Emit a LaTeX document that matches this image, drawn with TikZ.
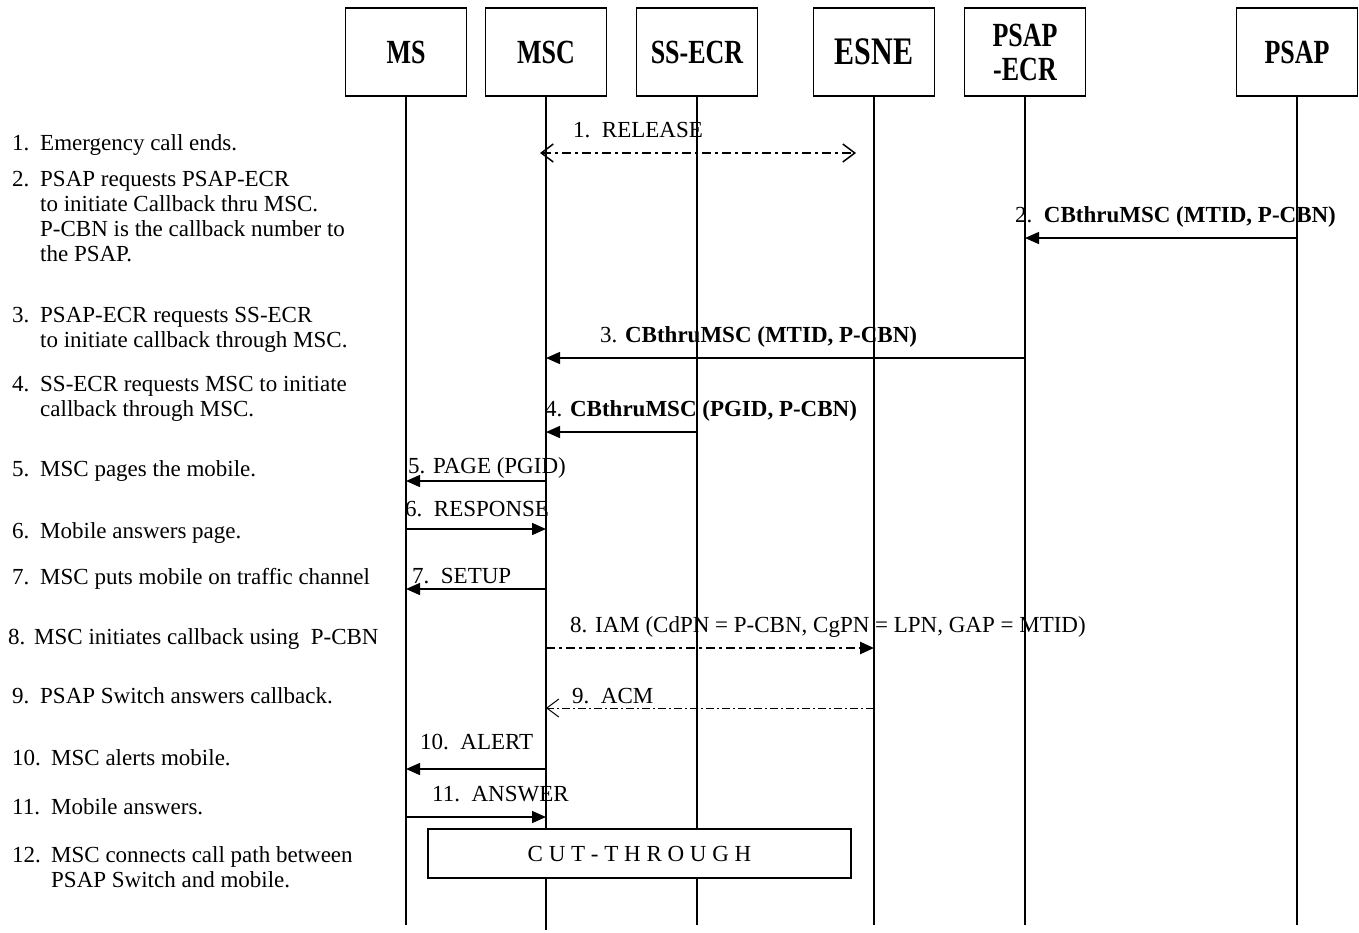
\documentclass[tikz,border=0pt]{standalone}
\usepackage{fontspec}
\setmainfont{Liberation Serif}
\usetikzlibrary{arrows.meta, positioning}

\newcommand{\notelines}[1]{\begin{tabular}[t]{@{}l@{}}#1\end{tabular}}
\newcommand{\tall}[1]{\scalebox{1}[1.3]{#1}}

\begin{document}
\begin{tikzpicture}[
    x=1pt, y=-1pt,
    font=\fontsize{23}{25}\selectfont,
    entity/.style={rectangle, draw=black, line width=1.4pt, minimum width=121pt, minimum height=88pt, inner sep=0pt, align=center, font=\fontsize{26}{32}\selectfont\bfseries},
    lifeline/.style={line width=1.2pt},
    msg/.style={-{Triangle[length=14pt,width=12pt]}, line width=1.5pt},
    release/.style={{Straight Barb[length=12pt,width=18pt,line width=1.5pt]}-{Straight Barb[length=12pt,width=18pt,line width=1.5pt]}, line width=2.6pt, dash pattern=on 9pt off 4pt on 3pt off 4pt},
    iam/.style={-{Triangle[length=14pt,width=12pt]}, line width=2.6pt, dash pattern=on 9pt off 4pt on 3pt off 4pt},
    acm/.style={-{Straight Barb[length=12pt,width=18pt,line width=1pt]}, line width=1pt, dash pattern=on 8pt off 3pt on 2pt off 3pt},
    lbl/.style={anchor=base west, inner sep=0pt},
    note/.style={anchor=base west, inner sep=0pt}
]
\useasboundingbox (0,0) rectangle (1359,932);

% Entities
\node[entity] (ms) at (406,52) {\tall{MS}};
\node[entity] (msc) at (546,52) {\tall{MSC}};
\node[entity] (ssecr) at (697,52) {\tall{SS-ECR}};
\node[entity, font=\fontsize{30}{32}\selectfont\bfseries] (esne) at (874,52) {\tall{ESNE}};
\node[entity] (psapecr) at (1025,52) {\tall{PSAP}\\[2pt]\tall{-ECR}};
\node[entity] (psap) at (1297,52) {\tall{PSAP}};

% Lifelines
\coordinate (bottom) at (0,925);
\draw[lifeline] (ms.south) -- (ms.south |- bottom);
\draw[lifeline] (msc.south) -- ([yshift=-5pt]msc.south |- bottom);
\draw[lifeline] (ssecr.south) -- (ssecr.south |- bottom);
\draw[lifeline] (esne.south) -- (esne.south |- bottom);
\draw[lifeline] (psapecr.south) -- (psapecr.south |- bottom);
\draw[lifeline] (psap.south) -- (psap.south |- bottom);

% Message rows
\coordinate (m1) at (0,153);
\coordinate (m2) at (0,238);
\coordinate (m3) at (0,358);
\coordinate (m4) at (0,432);
\coordinate (m5) at (0,481);
\coordinate (m6) at (0,529);
\coordinate (m7) at (0,589);
\coordinate (m8) at (0,648);
\coordinate (m9) at (0,708);
\coordinate (m10) at (0,769);
\coordinate (m11) at (0,817);

% Messages
\draw[release, shorten <=-6pt, shorten >=18pt] (msc |- m1) -- (esne |- m1);
\node[lbl] at (573,137) {1.\ \ RELEASE};

\draw[msg] (psap |- m2) -- (psapecr |- m2);
\node[lbl] at (1015,222) {2.\ \ \textbf{CBthruMSC (MTID, P-CBN)}};

\draw[msg] (psapecr |- m3) -- (msc |- m3);
\node[lbl] at (600,342) {3. \textbf{CBthruMSC (MTID, P-CBN)}};

\draw[msg] (ssecr |- m4) -- (msc |- m4);
\node[lbl] at (545,416) {4. \textbf{CBthruMSC (PGID, P-CBN)}};

\draw[msg] (msc |- m5) -- (ms |- m5);
\node[lbl] at (408,473) {5. PAGE (PGID)};

\draw[msg] (ms |- m6) -- (msc |- m6);
\node[lbl] at (405,516) {6.\ \ RESPONSE};

\draw[msg] (msc |- m7) -- (ms |- m7);
\node[lbl] at (412,583) {7.\ \ SETUP};

\draw[iam] (msc |- m8) -- (esne |- m8);
\node[lbl] at (570,632) {8. IAM (CdPN = P-CBN, CgPN = LPN, GAP = MTID)};

\draw[acm] (esne |- m9) -- (msc |- m9);
\node[lbl] at (572,703) {9.\ \ ACM};

\draw[msg] (msc |- m10) -- (ms |- m10);
\node[lbl] at (420,749) {10.\ \ ALERT};

\draw[msg] (ms |- m11) -- (msc |- m11);
\node[lbl] at (432,801) {11.\ \ ANSWER};

% Cut-through
\node[rectangle, draw=black, line width=1.4pt, fill=white, minimum width=423pt, minimum height=49pt] (cut) at (639.5,853.5) {C U T - T H R O U G H};

% Step descriptions
\node[note] (n1) at (12,150) {1.};
\node[note] (t1) at (40,150) {Emergency call ends.};
\node[note] (n2) at (12,186) {2.};
\node[note] (t2) at (40,186) {\notelines{PSAP requests PSAP-ECR\\to initiate Callback thru MSC.\\P-CBN is the callback number to\\the PSAP.}};
\node[note] (n3) at (12,322) {3.};
\node[note] (t3) at (40,322) {\notelines{PSAP-ECR requests SS-ECR\\to initiate callback through MSC.}};
\node[note] (n4) at (12,391) {4.};
\node[note] (t4) at (40,391) {\notelines{SS-ECR requests MSC to initiate\\callback through MSC.}};
\node[note] (n5) at (12,476) {5.};
\node[note] (t5) at (40,476) {MSC pages the mobile.};
\node[note] (n6) at (12,538) {6.};
\node[note] (t6) at (40,538) {Mobile answers page.};
\node[note] (n7) at (12,584) {7.};
\node[note] (t7) at (40,584) {MSC puts mobile on traffic channel};
\node[note] (n8) at (8,644) {8.};
\node[note] (t8) at (34,644) {MSC initiates callback using\ \ P-CBN};
\node[note] (n9) at (12,703) {9.};
\node[note] (t9) at (40,703) {PSAP Switch answers callback.};
\node[note] (n10) at (12,765) {10.};
\node[note] (t10) at (51,765) {MSC alerts mobile.};
\node[note] (n11) at (12,814) {11.};
\node[note] (t11) at (51,814) {Mobile answers.};
\node[note] (n12) at (12,862) {12.};
\node[note] (t12) at (51,862) {\notelines{MSC connects call path between\\PSAP Switch and mobile.}};

\end{tikzpicture}
\end{document}
